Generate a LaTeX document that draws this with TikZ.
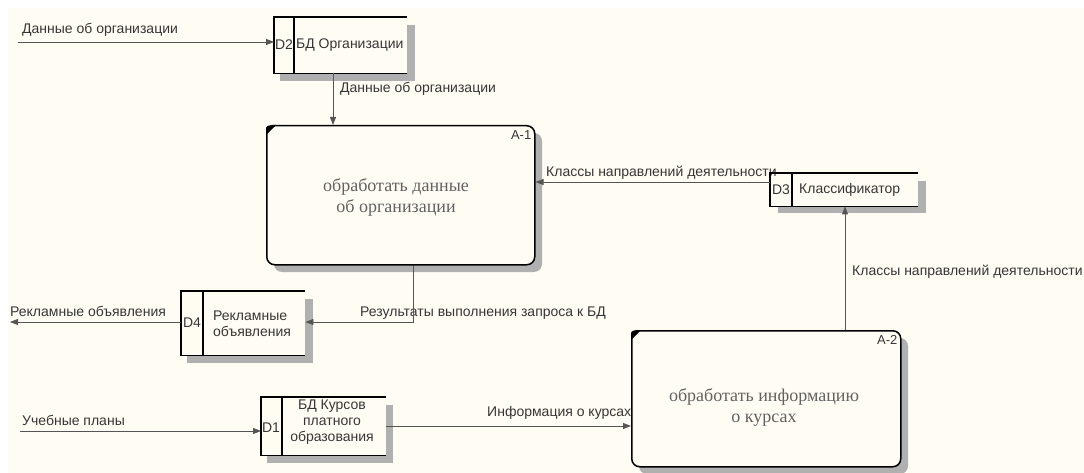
\documentclass[tikz,border=0pt]{standalone}
\usepackage{fontspec}
\setmainfont{Liberation Serif}
\setsansfont{Liberation Sans}
\usetikzlibrary{arrows.meta,calc}
\definecolor{paper}{HTML}{FFFCF3}
\definecolor{ink}{HTML}{363636}
\definecolor{flow}{HTML}{555555}
\definecolor{shade}{HTML}{B0B0B0}
\begin{document}
\begin{tikzpicture}[x=1pt,y=-1pt,
  lbl/.style={font=\sffamily\fontsize{14}{16}\selectfont,text=ink,inner sep=0pt,anchor=west},
  proc/.style={draw=black,line width=1.5pt,rounded corners=8pt,fill=paper},
  proctext/.style={font=\fontsize{18}{21}\selectfont,text=black!62,align=center,inner sep=0pt},
  procid/.style={font=\sffamily\fontsize{13}{14}\selectfont,text=ink,inner sep=0pt,anchor=north east},
  storebox/.style={inner sep=0pt,anchor=north west,fill=paper},
  storeline/.style={line width=1.4pt,black},
  storetext/.style={font=\sffamily\fontsize{14}{16}\selectfont,text=ink,inner sep=0pt},
  flowline/.style={draw=flow,line width=0.8pt},
  arr/.style={flowline,-{Triangle[length=8pt,width=6pt]}},
  shadow/.style={fill=shade}]
% page
\fill[white] (0,0) rectangle (1084,473);
\fill[paper] (8,8) rectangle (1084,473);
\useasboundingbox (0,0) rectangle (1084,473);

% ---- shadows
\fill[shadow] (280,25) rectangle (415,81);
\fill[shadow] (778,181) rectangle (926,213);
\fill[shadow] (187,299) rectangle (313,363);
\fill[shadow] (267,405) rectangle (393,463);
\fill[shadow,rounded corners=8pt] (274,133) rectangle (542,272);
\fill[shadow,rounded corners=8pt] (639,338) rectangle (908,474);

% ---- data stores (closed left side, open right side)
\node[storebox,minimum width=133pt,minimum height=56pt] (d2) at (274,17) {};
\node[storebox,minimum width=148pt,minimum height=33pt] (d3) at (770,173) {};
\node[storebox,minimum width=124pt,minimum height=64pt] (d4) at (181,291) {};
\node[storebox,minimum width=125pt,minimum height=58pt] (d1) at (261,397) {};
\foreach \s/\w in {d2/20,d3/22,d4/22,d1/21}{
  \draw[storeline] (\s.north east) -- (\s.north west) -- (\s.south west) -- (\s.south east);
  \draw[storeline] ($(\s.north west)+(\w,0)$) -- ($(\s.south west)+(\w,0)$);
}
\node[storetext] (d2id) at (284,45) {D2};
\node[storetext,anchor=west] (d2txt) at (296,45) {БД Организации};
\node[storetext] (d3id) at (781,190) {D3};
\node[storetext,anchor=west] (d3txt) at (799,190) {Классификатор};
\node[storetext] (d4id) at (192,323) {D4};
\node[storetext,anchor=west,align=left] (d4txt) at (213,324) {Рекламные\\объявления};
\node[storetext] (d1id) at (271,428) {D1};
\node[storetext,align=center] (d1txt) at (332,422) {БД Курсов\\платного\\образования};

% ---- flow labels (drawn beneath the boxes)
\node[lbl] (l1) at (22,30) {Данные об организации};
\node[lbl] (l2) at (340,89) {Данные об организации};
\node[lbl] (l3) at (546,173) {Классы направлений деятельности};
\node[lbl] (l4) at (852,272) {Классы направлений деятельности};
\node[lbl] (l5) at (360,313) {Результаты выполнения запроса к БД};
\node[lbl] (l6) at (10,311) {Рекламные объявления};
\node[lbl] (l7) at (22,420) {Учебные планы};
\node[lbl] (l8) at (487,413) {Информация о курсах};

% redraw D3 frame over its label
\draw[storeline] (d3.north east) -- (d3.north west) -- (d3.south west) -- (d3.south east);

% ---- processes
\node[proc,minimum width=268pt,minimum height=139pt,anchor=north west] (a1) at (266,125) {};
\node[proc,minimum width=269pt,minimum height=136pt,anchor=north west] (a2) at (631,330) {};
\foreach \p in {a1,a2}{
  \fill[black] ($(\p.north west)+(0,10)$) -- ($(\p.north west)+(0,6)$)
    .. controls ($(\p.north west)+(0,1)$) .. ($(\p.north west)+(6,0)$) -- ($(\p.north west)+(10,0)$) -- cycle;
}
\node[proctext] (a1txt) at (396,197) {обработать данные\\об организации};
\node[procid] (a1id) at ($(a1.north east)+(-4,5)$) {A-1};
\node[proctext] (a2txt) at (764,407) {обработать информацию\\о курсах};
\node[procid] (a2id) at ($(a2.north east)+(-4,5)$) {A-2};

% ---- connectors
\coordinate (src1) at (18,42);
\coordinate (src2) at (20,431);
\coordinate (sink) at (10,322);
\draw[arr] (src1) -- (src1 -| d2.west);
\draw[arr] (d2.south west -| 333,0) -- (a1.north west -| 333,0);
\draw[arr] (d3.west |- 0,182) -- (a1.east |- 0,182);
\draw[arr] (a2.north west -| 845,0) -- (d3.south west -| 845,0);
\draw[arr] (a1.south west -| 413,0) |- (d4.east |- 0,322);
\draw[arr] (d4.west |- sink) -- (sink);
\draw[arr] (src2) -- (src2 -| d1.west);
\draw[arr] (d1.east |- 0,426) -- (a2.west |- 0,426);
\end{tikzpicture}
\end{document}
